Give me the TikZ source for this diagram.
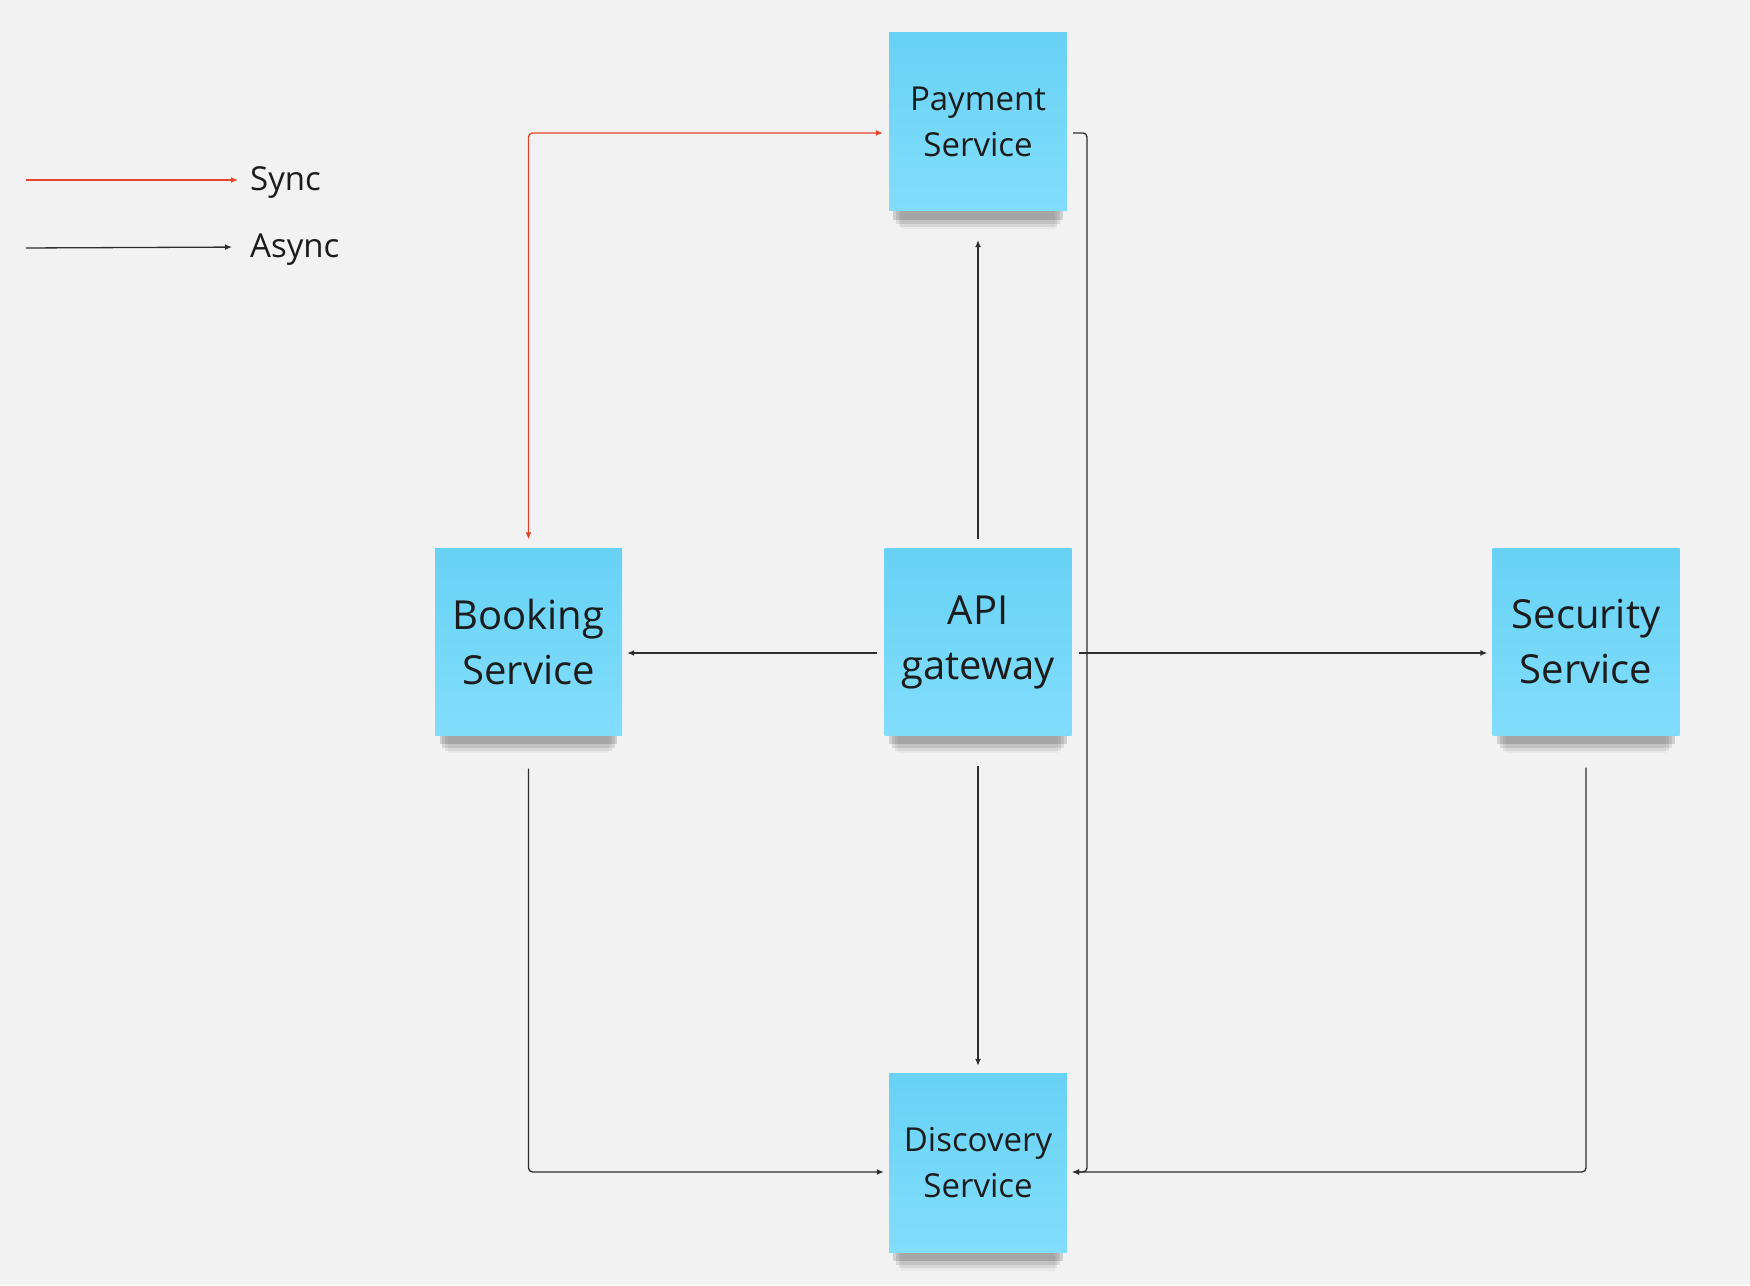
\documentclass[tikz,border=0pt]{standalone}
\usepackage{fontspec}
\setmainfont{Open Sans}
\usetikzlibrary{positioning,arrows.meta,shadows}
\definecolor{notetop}{HTML}{67D2F5}
\definecolor{notebot}{HTML}{82DDFB}
\definecolor{syncred}{HTML}{E6452C}
\definecolor{asyncgray}{HTML}{2E2E2E}
\definecolor{boardbg}{HTML}{F2F2F2}
\definecolor{inkdark}{HTML}{1C1C1C}

\begin{document}
\begin{tikzpicture}[x=1pt, y=1pt,
      note/.style={rectangle, top color=notetop, bottom color=notebot,
        text=inkdark, align=center, inner sep=0pt,
        drop shadow={shadow xshift=0pt, shadow yshift=-36pt, shadow scale=0.86,
          fill=black, opacity=0.04},
        drop shadow={shadow xshift=0pt, shadow yshift=-29pt, shadow scale=0.89,
          fill=black, opacity=0.07},
        drop shadow={shadow xshift=0pt, shadow yshift=-22pt, shadow scale=0.92,
          fill=black, opacity=0.1},
        drop shadow={shadow xshift=0pt, shadow yshift=-14pt, shadow scale=0.95,
          fill=black, opacity=0.14}},
      bignote/.style={note, minimum width=187pt, minimum height=187pt,
        font=\fontsize{40}{55}\selectfont},
      smallnote/.style={note, minimum width=178pt, minimum height=178pt,
        font=\fontsize{33}{46}\selectfont},
      legend/.style={font=\fontsize{33}{40}\selectfont, text=inkdark, inner sep=0pt, anchor=west},
      sync/.style={-{Latex[length=7pt,width=6pt]}, line width=1.3pt, color=syncred, rounded corners=4pt},
      async/.style={-{Latex[length=7pt,width=6pt]}, line width=1.3pt, color=asyncgray, rounded corners=4pt}
    ]
      \fill[boardbg] (0,0) rectangle (1750,1285);
      \useasboundingbox (0,0) rectangle (1750,1285);

      % legend
      \coordinate (syncstart) at (26,1105);
      \coordinate (asyncstart) at (26,1037);
      \node[legend] (synctxt)  at (250,1102) {Sync};
      \node[legend] (asynctxt) at (250,1035) {Async};
      \draw[sync, shorten >=12pt] (syncstart) -- (synctxt.west |- syncstart);
      \draw[async, shorten >=18pt] (asyncstart) -- ([yshift=3pt]asynctxt.west);

      % services
      \node[smallnote] (pay)  at (978,1163) {Payment\\Service};
      \node[bignote]   (book) at (528.5,643) {Booking\\Service};
      \node[bignote]   (api)  at (978,643)   {API\\gateway};
      \node[bignote]   (sec)  at (1586,643)  {Security\\Service};
      \node[smallnote] (disc) at (978,122)   {Discovery\\Service};

      \coordinate (jn) at (1087,113);

      % sync call
      \draw[sync, {Latex[length=7pt,width=6pt]}-{Latex[length=7pt,width=6pt]}]
        ([xshift=-6pt,yshift=-11pt]pay.west) -| ([yshift=9pt]book.north);

      % async calls
      \draw[async] ([yshift=9pt]api.north) -- ([yshift=-29pt]pay.south);
      \draw[async] ([xshift=-7pt,yshift=-11pt]api.west) -- ([xshift=5pt,yshift=-11pt]book.east);
      \draw[async] ([xshift=7pt,yshift=-11pt]api.east) -- ([xshift=-5pt,yshift=-11pt]sec.west);
      \draw[async] ([yshift=-30pt]api.south) -- ([yshift=8pt]disc.north);
      \draw[async] ([yshift=-33pt]book.south) |- ([xshift=-5pt,yshift=-9pt]disc.west);
      \draw[async] ([yshift=-32pt]sec.south) |- ([xshift=5pt,yshift=-9pt]disc.east);
      \draw[async] ([xshift=6pt,yshift=-11pt]pay.east) -| (jn) -- ([xshift=5pt,yshift=-9pt]disc.east);
    \end{tikzpicture}
\end{document}
